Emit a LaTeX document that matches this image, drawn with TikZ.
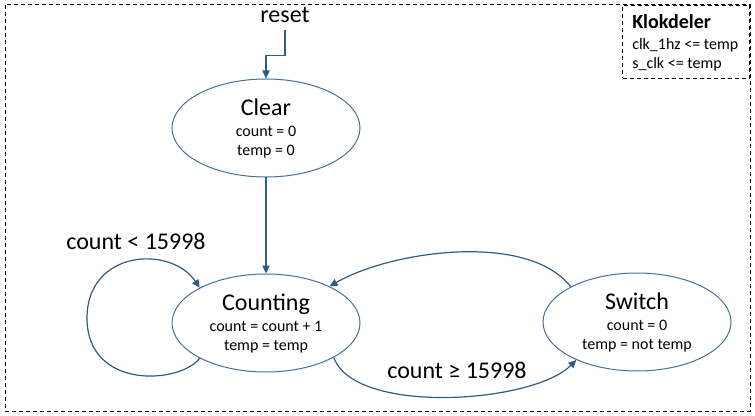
\documentclass[tikz,border=0pt]{standalone}
\usepackage{fontspec}
\setmainfont{Carlito}
\usetikzlibrary{arrows.meta, positioning, shapes.geometric}
\definecolor{stblue}{HTML}{41719C}
\definecolor{arblue}{HTML}{2E5C8A}

\begin{document}
\begin{tikzpicture}[
        x=0.75pt, y=-0.75pt,
        >={Triangle[width=5.5pt, length=6pt]},
        st/.style={ellipse, draw=stblue, line width=0.75pt, fill=white, minimum width=141pt, minimum height=73.5pt,
                   inner sep=0pt, align=center, font=\fontsize{12}{14.25}\selectfont},
        e/.style={->, draw=arblue, line width=0.9pt},
        lab/.style={font=\fontsize{18}{21}\selectfont, anchor=base, inner sep=1pt},
        frame/.style={draw, dashed, dash pattern=on 3pt off 2.25pt, line width=0.75pt}
    ]
        \useasboundingbox (0,0) rectangle (755,416);
        \draw[frame] (5,5) rectangle (750,411);

        % toestanden
        \node[st] (clear) at (266,128) {{\fontsize{18}{21}\selectfont Clear}\\[1.5pt] count = 0\\ temp = 0};
        \node[st] (cnt) at (266,323) {{\fontsize{18}{21}\selectfont Counting}\\[1.5pt] count = count + 1\\ temp = temp};
        \node[st] (sw) at (637,322) {{\fontsize{18}{21}\selectfont Switch}\\[1.5pt] count = 0\\ temp = not temp};

        % klokdeler
        \node[frame, anchor=north east, minimum width=95.25pt, minimum height=54.75pt] (klok) at (750,5) {};
        \node[anchor=north west, align=left, inner sep=0pt, font=\fontsize{12}{14.25}\selectfont] (kltxt) at (632,14)
            {{\bfseries\fontsize{15}{17.25}\selectfont Klokdeler}\\[2pt] clk\_1hz <= temp\\ s\_clk <= temp};

        % reset
        \node[lab, inner sep=5pt] (rst) at (285,23) {reset};
        \draw[e] (rst.south) -- ++(0,25) -| (clear.north);

        % overgangen
        \draw[e] (clear) -- (cnt);

        \coordinate (loopL) at (87,318);
        \draw[e] (cnt.208) .. controls +(-20,26) and +(0,72) .. (loopL)
            .. controls +(0,-68) and +(-29,-43) .. (cnt.152);
        \node[lab] (lcnt) at (136,249) {count < 15998};

        \draw[e] (sw.152) to[out=128, in=30, looseness=0.75] (cnt.30);
        \draw[e] (cnt.333) to[out=-70, in=225, looseness=0.65] (sw.212);
        \node[lab] (lsw) at (457,378) {count ≥ 15998};
\end{tikzpicture}
\end{document}
